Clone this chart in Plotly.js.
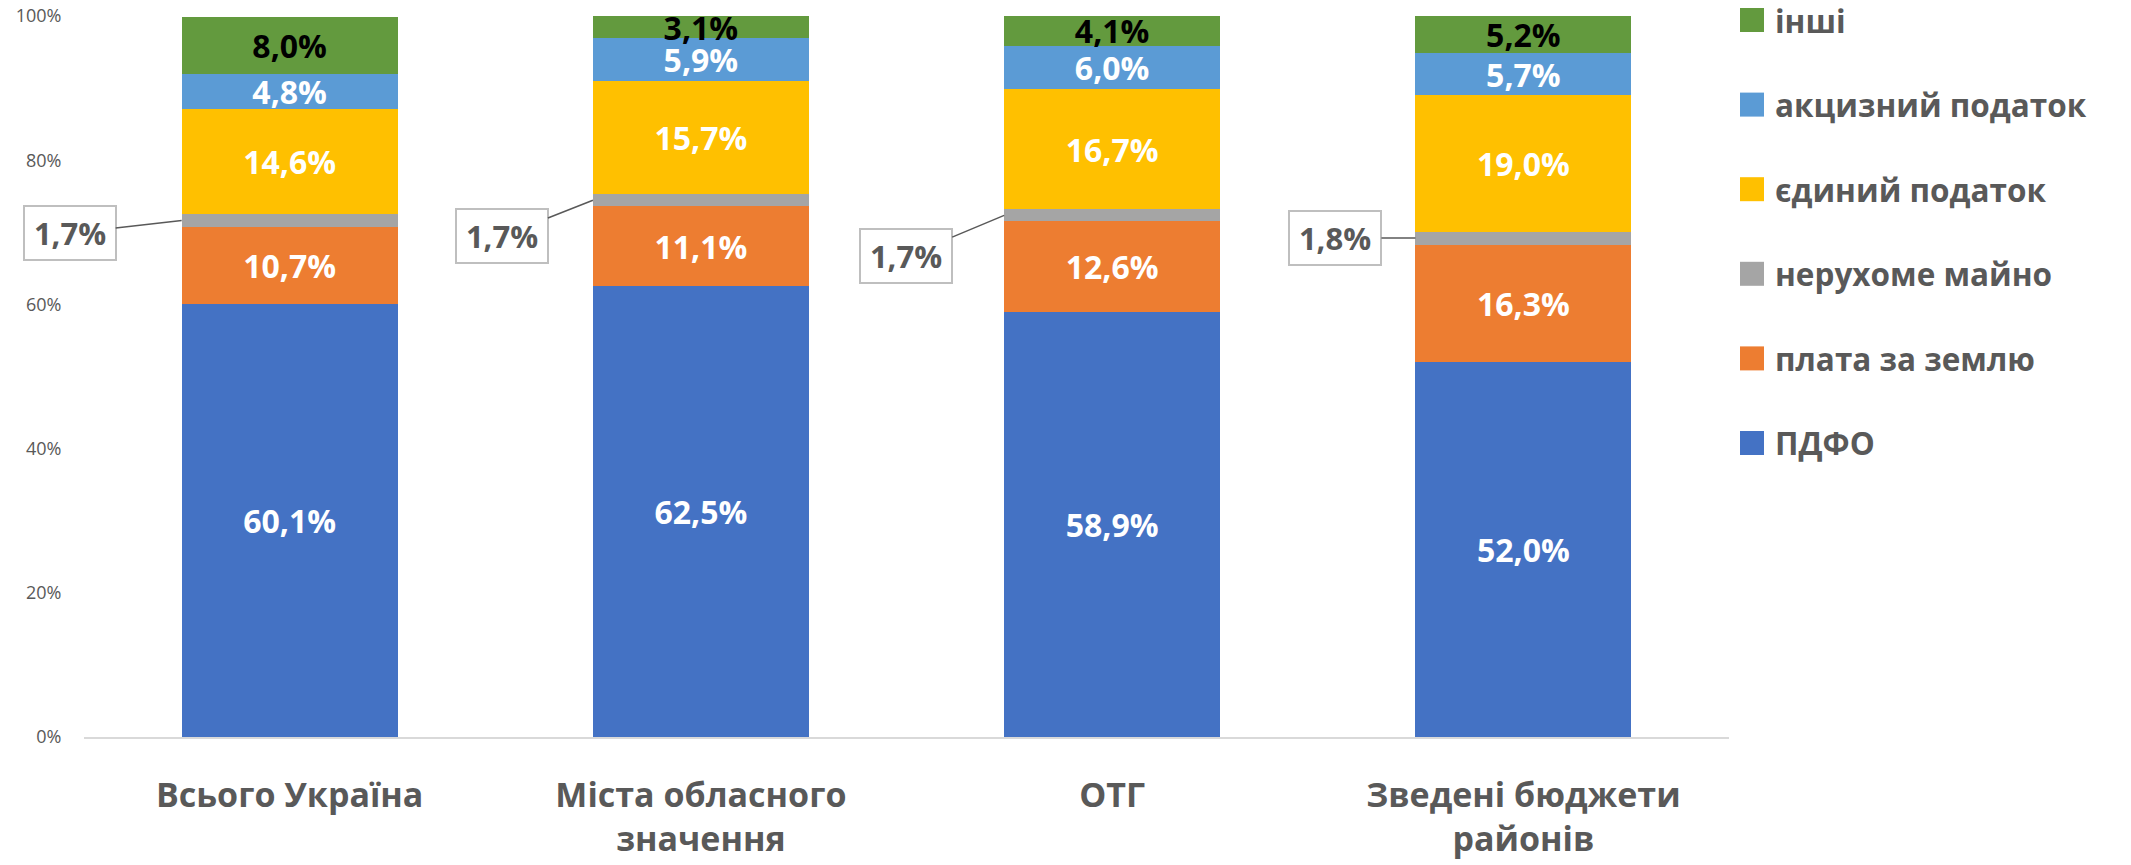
<!DOCTYPE html>
<html><head><meta charset="utf-8">
<script src="https://cdn.plot.ly/plotly-3.0.1.min.js"></script>
<style>body{margin:0;background:#fff}</style>
</head><body><div id="chart" style="width:2131px;height:865px"></div>
<script>
const categories = ['Всього Україна', 'Міста обласного<br>значення', 'ОТГ', 'Зведені бюджети<br>районів'];
const seriesNames = ['ПДФО', 'плата за землю', 'нерухоме майно', 'єдиний податок', 'акцизний податок', 'інші'];
const pdfo = [60.1, 62.5, 58.9, 52.0];
const landFee = [10.7, 11.1, 12.6, 16.3];
const realEstate = [1.7, 1.7, 1.7, 1.8];
const singleTax = [14.6, 15.7, 16.7, 19.0];
const exciseTax = [4.8, 5.9, 6.0, 5.7];
const others = [8.0, 3.1, 4.1, 5.2];
const yTickVals = [0, 20, 40, 60, 80, 100];
const yTickText = ['0%', '20%', '40%', '60%', '80%', '100%'];

const seriesValues = [pdfo, landFee, realEstate, singleTax, exciseTax, others];
const colors = ['#4472C4', '#ED7D31', '#A5A5A5', '#FFC000', '#5B9BD5', '#639A3E'];
const labelColors = ['#FFFFFF', '#FFFFFF', '#FFFFFF', '#FFFFFF', '#FFFFFF', '#000000'];
const FONT = '"Open Sans", "DejaVu Sans", sans-serif';
const fmt = v => v.toFixed(1).replace('.', ',') + '%';
const BAR_W = 0.525;

const traces = seriesValues.map((vals, s) => ({
  type: 'bar',
  name: seriesNames[s],
  x: categories,
  y: vals,
  width: BAR_W,
  marker: {color: colors[s], line: {width: 0}},
  text: s === 2 ? vals.map(() => '') : vals.map(fmt),
  textposition: 'inside',
  insidetextanchor: 'middle',
  constraintext: 'none',
  textangle: 0,
  textfont: {family: FONT, size: 32, color: labelColors[s], weight: 700},
  hoverinfo: 'name+y',
  showlegend: false
}));

// callouts for the thin grey segment
const calloutOffsets = [[-112, 13], [-91, 36], [-98, 41], [-80, 0]];
const annotations = realEstate.map((v, i) => ({
  xref: 'x', yref: 'y',
  x: i - BAR_W / 2,
  y: pdfo[i] + landFee[i] + v / 2,
  text: fmt(v),
  showarrow: true, arrowhead: 0, arrowwidth: 1.5, arrowcolor: '#595959', standoff: 0,
  ax: calloutOffsets[i][0], ay: calloutOffsets[i][1],
  bgcolor: '#FFFFFF', bordercolor: '#BFBFBF', borderwidth: 2, borderpad: 5,
  width: 80, height: 42,
  font: {family: FONT, size: 31, color: '#595959', weight: 700}
}));

// custom legend (top to bottom: reversed series order)
const plotTop = 16, plotBottom = 737, plotLeft = 84, plotRight = 1729;
const toPx = py => (plotBottom - py) / (plotBottom - plotTop);
const toPxX = px => (px - plotLeft) / (plotRight - plotLeft);
const shapes = [];
seriesNames.slice().reverse().forEach((name, k) => {
  const s = seriesNames.length - 1 - k;
  const cy = 20 + 84.6 * k;
  shapes.push({type: 'rect', xref: 'paper', yref: 'paper',
    x0: toPxX(1740), x1: toPxX(1764), y0: toPx(cy + 12), y1: toPx(cy - 12),
    fillcolor: colors[s], line: {width: 0}});
  annotations.push({xref: 'paper', yref: 'paper', x: toPxX(1773), y: toPx(cy),
    xanchor: 'left', yanchor: 'middle', showarrow: false, text: name,
    font: {family: FONT, size: 31.5, color: '#595959', weight: 700}});
});

const layout = {
  width: 2131, height: 865,
  margin: {l: plotLeft, r: 2131 - plotRight, t: plotTop, b: 865 - plotBottom},
  barmode: 'stack',
  paper_bgcolor: '#FFFFFF', plot_bgcolor: '#FFFFFF',
  showlegend: false,
  xaxis: {
    type: 'category', range: [-0.5, 3.5],
    showline: true, linecolor: '#D9D9D9', linewidth: 2,
    showgrid: false, zeroline: false,
    ticks: 'outside', ticklen: 27, tickcolor: 'rgba(0,0,0,0)',
    tickfont: {family: FONT, size: 34, color: '#595959', weight: 700}
  },
  yaxis: {
    range: [0, 100], tickvals: yTickVals, ticktext: yTickText,
    showgrid: false, zeroline: false, showline: false,
    ticks: 'outside', ticklen: 18, tickcolor: 'rgba(0,0,0,0)',
    tickfont: {family: FONT, size: 18, color: '#595959'}
  },
  shapes: shapes,
  annotations: annotations
};

Plotly.newPlot('chart', traces, layout, {displayModeBar: false, staticPlot: true});
</script></body></html>
